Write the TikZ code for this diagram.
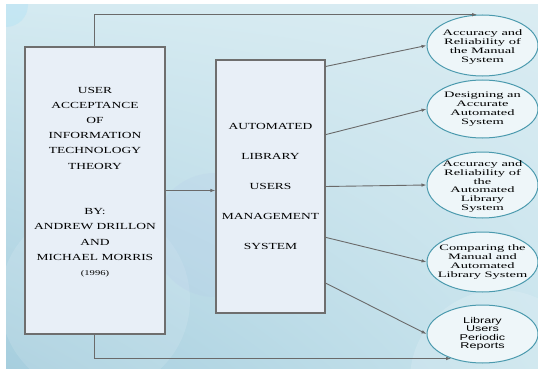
\documentclass[tikz,border=0pt]{standalone}
\usepackage{fontspec}
\newfontfamily\boxfont[FakeStretch=1.45]{Liberation Serif}
\newfontfamily\ovalfont[FakeStretch=1.72]{Liberation Serif}
\newfontfamily\ovalsans[FakeStretch=1.5]{Liberation Sans}
\usetikzlibrary{shapes.geometric, arrows.meta, calc, shadings}
\definecolor{boxfill}{HTML}{E8EFF7}
\definecolor{boxline}{HTML}{6E6E6E}
\definecolor{ovalfill}{HTML}{EEF6F9}
\definecolor{ovalline}{HTML}{4B9AAE}
\definecolor{linkgray}{HTML}{6A6A6A}
\definecolor{bgul}{HTML}{D4EAF1}
\definecolor{bgur}{HTML}{DAECF2}
\definecolor{bgll}{HTML}{A6CEDE}
\definecolor{bglr}{HTML}{C9E4ED}

\begin{document}
\begin{tikzpicture}[x = 1pt, y = -1pt,
    theorybox/.style = {draw = boxline, fill = boxfill, line width = 1.3pt, inner sep = 0pt},
    boxtext/.style = {align = center, text = black},
    oval/.style = {ellipse, draw = ovalline, fill = ovalfill, line width = 1pt, minimum width = 111pt, inner sep = 0pt},
    ovaltext/.style = {align = center, text = black, font = \ovalfont\fontsize{8.4}{8.9}\selectfont},
    link/.style = {draw = linkgray, line width = 0.9pt, -{Latex[length = 5pt, width = 3.5pt]}}]
        \useasboundingbox (0, 0) rectangle (538, 369);

        % background
        \shade [upper left = bgul, upper right = bgur, lower left = bgll, lower right = bglr]
        (6, 5) rectangle (538, 369);
        \begin{scope}
            \clip (6, 5) rectangle (538, 369);
            \fill [cyan!40!white, opacity = 0.25] (6, 5) circle (22);
            \fill [white, opacity = 0.12] (95, 300) circle (95);
            \fill [cyan!50!blue!30!white, opacity = 0.18] (215, 235) circle (62);
            \fill [white, opacity = 0.15] (500, 380) circle (90);
        \end{scope}

        % boxes
        \node [theorybox, minimum width = 140pt, minimum height = 287pt] (theory) at (95, 190.5) {};
        \node [boxtext, font = \boxfont\fontsize{9.3}{15.2}\selectfont] (theorytext) at ([yshift = 8.5pt]theory.center)
        {USER\\ACCEPTANCE\\OF\\INFORMATION\\TECHNOLOGY\\THEORY\\[30.4pt]BY:\\ANDREW DRILLON\\AND\\MICHAEL MORRIS\\{\fontsize{7.3}{9}\selectfont (1996)}};

        \node [theorybox, minimum width = 109pt, minimum height = 253pt] (alums) at (270.5, 186.5) {};
        \node [boxtext, font = \boxfont\fontsize{9.3}{30}\selectfont] (alumstext) at (alums.center)
        {AUTOMATED\\LIBRARY\\USERS\\MANAGEMENT\\SYSTEM};

        % outcomes
        \node [oval, minimum height = 61pt] (o1) at (482.5, 45.5) {};
        \node [oval, minimum height = 58pt] (o2) at (482.5, 109) {};
        \node [oval, minimum height = 66pt] (o3) at (482.5, 185) {};
        \node [oval, minimum height = 60pt] (o4) at (482.5, 262) {};
        \node [oval, minimum height = 58pt] (o5) at (482.5, 334) {};

        \node [ovaltext] (o1text) at ([yshift = -1.5pt]o1.center) {Accuracy and\\Reliability of\\the Manual\\System};
        \node [ovaltext] (o2text) at (o2.center) {Designing an\\Accurate\\Automated\\System};
        \node [ovaltext] (o3text) at ([yshift = -1.5pt]o3.center) {Accuracy and\\Reliability of\\the\\Automated\\Library\\System};
        \node [ovaltext] (o4text) at (o4.center) {Comparing the\\Manual and\\Automated\\Library System};
        \node [ovaltext, font = \ovalsans\fontsize{8.4}{8.4}\selectfont] (o5text) at (o5.center) {Library\\Users\\Periodic\\Reports};

        % connectors
        \coordinate (topturn) at (94, 15);
        \coordinate (botturn) at (94, 358);
        \draw [link] (theory.north -| topturn) |- (o1.100);
        \draw [link] (theory.south -| botturn) |- (o5.218);
        \draw [link] (theory.east) -- (theory.east -| alums.west);
        \foreach \f/\o in {0.028/o1, 0.296/o2, 0.5/o3, 0.7/o4, 0.88/o5}
            \draw [link] ($(alums.north east)!\f!(alums.south east)$) -- (\o.west);
    \end{tikzpicture}
\end{document}
